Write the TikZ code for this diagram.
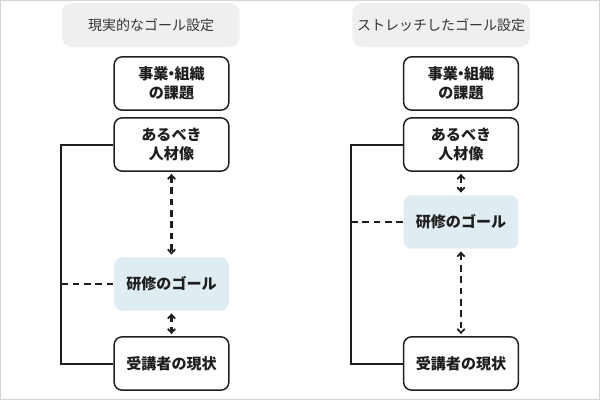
\documentclass[tikz,border=0pt]{standalone}
\usepackage{fontspec}
\setmainfont{Noto Sans CJK JP}
\usetikzlibrary{arrows.meta}
\definecolor{titlegray}{HTML}{EFEFEF}
\definecolor{goalblue}{HTML}{DFEDF2}
\definecolor{framegray}{HTML}{D4D4D4}
\definecolor{ink}{HTML}{1E1E1E}
\newcommand{\ndot}{\kern-0.3em・\kern-0.3em}
\tikzset{%
  >={Straight Barb[width=5.5pt,length=3pt,line width=1.3pt]},
  % Specifications for style of nodes:
            base/.style = {rectangle, rounded corners=6pt, draw=ink, line width=1.1pt,
                           minimum width=86pt, minimum height=40pt,
                           text centered, align=center, font=\bfseries\fontsize{11.3}{14.5}\selectfont,
                           text=ink},
       goalbox/.style = {base, draw=none, fill=goalblue},
      titlebox/.style = {rectangle, rounded corners=7pt, fill=titlegray,
                           minimum width=133pt, minimum height=33pt,
                           font=\fontsize{10.5}{13}\selectfont, text=ink!90},
          rail/.style = {draw=ink, line width=1.5pt},
        dashrail/.style = {draw=ink, line width=1.6pt, dash pattern=on 5pt off 3.5pt},
          link/.style = {draw=ink, line width=1.6pt, dash pattern=on 5pt off 3.5pt,
                           <->, shorten >=1.5pt, shorten <=1.5pt},
}
\begin{document}
\begin{tikzpicture}[x=0.75pt, y=-0.75pt]
  \useasboundingbox (0,0) rectangle (600,400);
  \draw[framegray, line width=1pt] (0.7,0.7) rectangle (599.3,399.3);

  % left: realistic goal setting
  \node (ltitle) [titlebox] at (151,25) {現実的なゴール設定};
  \node (lissue) [base] at (171.5,83.5)  {事業\ndot 組織\\の課題};
  \node (lideal) [base] at (171.5,144.5) {あるべき\\人材像};
  \node (lgoal)  [goalbox] at (171.5,284) {研修のゴール};
  \node (lnow)   [base] at (171.5,363.5) {受講者の現状};
  \coordinate (lx) at (61,0);

  \draw[rail] (lideal.west) -- (lideal.west -| lx) |- (lnow.west);
  \draw[dashrail] (lgoal.west) -- (lgoal.west -| lx);
  \draw[link] (lideal.south) -- (lgoal.north);
  \draw[link] (lgoal.south) -- (lnow.north);

  % right: stretched goal setting
  \node (rtitle) [titlebox] at (441,25) {ストレッチしたゴール設定};
  \node (rissue) [base] at (461,83.5)  {事業\ndot 組織\\の課題};
  \node (rideal) [base] at (461,144.5) {あるべき\\人材像};
  \node (rgoal)  [goalbox] at (461,222) {研修のゴール};
  \node (rnow)   [base] at (461,363.5) {受講者の現状};
  \coordinate (rx) at (351,0);

  \draw[rail] (rideal.west) -- (rideal.west -| rx) |- (rnow.west);
  \draw[dashrail] (rgoal.west) -- (rgoal.west -| rx);
  \draw[link] (rideal.south) -- (rgoal.north);
  \draw[link] (rgoal.south) -- (rnow.north);
\end{tikzpicture}
\end{document}
